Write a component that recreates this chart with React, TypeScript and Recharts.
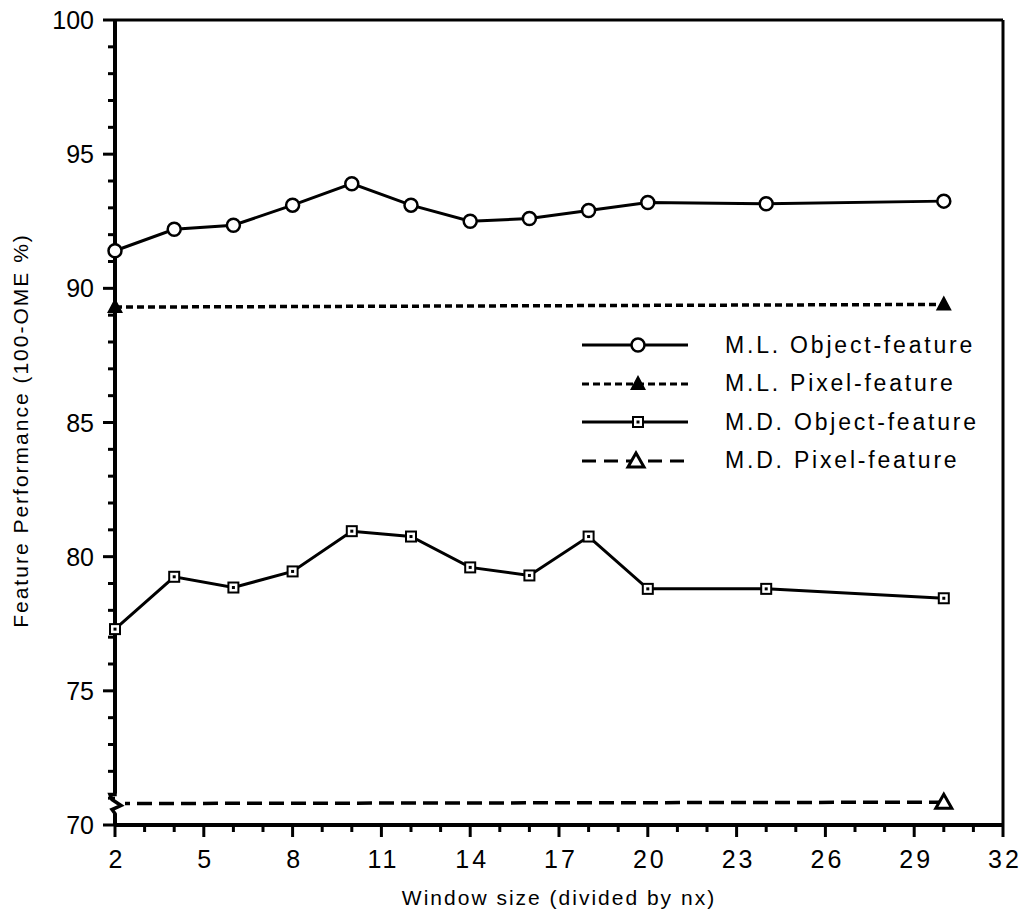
import { LineChart, Line, XAxis, YAxis, ReferenceLine, Legend } from 'recharts'

// window size (divided by nx)
const windowSizes = [2, 4, 6, 8, 10, 12, 14, 16, 18, 20, 24, 30]
const mlObject = [91.4, 92.2, 92.35, 93.1, 93.9, 93.1, 92.5, 92.6, 92.9, 93.2, 93.15, 93.25]
const mdObject = [77.3, 79.25, 78.85, 79.45, 80.95, 80.75, 79.6, 79.3, 80.75, 78.8, 78.8, 78.45]

const pixelSizes = [2, 30]
const mlPixel = [89.3, 89.4]
const mdPixel = [70.8, 70.85]

const seriesNames = ['M.L. Object-feature', 'M.L. Pixel-feature', 'M.D. Object-feature', 'M.D. Pixel-feature']

const xLabels = [2, 5, 8, 11, 14, 17, 20, 23, 26, 29, 32]
const yLabels = [70, 75, 80, 85, 90, 95, 100]
const xTicks = Array.from({ length: 31 }, (_, i) => 2 + i)
const yTicks = Array.from({ length: 31 }, (_, i) => 70 + i)

const toRows = (xs: number[], ys: number[]) => xs.map((x, i) => ({ x, v: ys[i] }))

const mlObjectData = toRows(windowSizes, mlObject)
const mdObjectData = toRows(windowSizes, mdObject)
const mlPixelData = toRows(pixelSizes, mlPixel)
const mdPixelData = toRows(pixelSizes, mdPixel)

const FONT = '"Liberation Sans", Arial, Helvetica, sans-serif'

const OpenCircle = ({ cx, cy }: any) => (
    <circle cx={cx} cy={cy} r={6.5} fill='#fff' stroke='#000' strokeWidth={2.5} />
)

const FilledTriangle = ({ cx, cy }: any) => (
    <polygon points={`${cx},${cy - 9} ${cx - 8},${cy + 6} ${cx + 8},${cy + 6}`} fill='#000' />
)

const OpenTriangle = ({ cx, cy }: any) => (
    <polygon
        points={`${cx},${cy - 8} ${cx - 8},${cy + 6} ${cx + 8},${cy + 6}`}
        fill='#fff'
        stroke='#000'
        strokeWidth={3}
    />
)

const DotSquare = ({ cx, cy }: any) => (
    <g>
        <rect x={cx - 5} y={cy - 5} width={10} height={10} fill='#fff' stroke='#000' strokeWidth={2} />
        <rect x={cx - 1.5} y={cy - 1.5} width={3} height={3} fill='#000' />
    </g>
)

// the first M.D. pixel point sits on the y axis, where the axis shows a break
const MdPixelDot = (props: any) => {
    const { cx, cy, index } = props
    if (index !== 0) return <OpenTriangle key={index} cx={cx} cy={cy} />
    return (
        <g key={index}>
            <rect x={cx - 8} y={cy - 10} width={18} height={20} fill='#fff' />
            <polyline
                points={`${cx},${cy - 12} ${cx},${cy - 9} ${cx - 5},${cy - 9} ${cx - 3},${cy - 4} ${cx + 6},${cy + 2} ${cx - 3},${cy + 6} ${cx},${cy + 10} ${cx},${cy + 12}`}
                fill='none'
                stroke='#000'
                strokeWidth={3.5}
                strokeLinejoin='miter'
            />
        </g>
    )
}

const XTick = ({ x, y, payload }: any) => {
    const major = xLabels.includes(payload.value)
    return (
        <g>
            <line x1={x} y1={y} x2={x} y2={y + (major ? 12 : 7)} stroke='#000' strokeWidth={3} />
            {major && (
                <text x={x + 2} y={y + 43} textAnchor='middle' fontFamily={FONT} fontSize={25} letterSpacing={3} fill='#000'>
                    {payload.value}
                </text>
            )}
        </g>
    )
}

const YTick = ({ x, y, payload }: any) => {
    const major = yLabels.includes(payload.value)
    return (
        <g>
            <line x1={x} y1={y} x2={x - (major ? 12 : 7)} y2={y} stroke='#000' strokeWidth={3} />
            {major && (
                <text x={x - 21} y={y + 9} textAnchor='end' fontFamily={FONT} fontSize={25} fill='#000'>
                    {payload.value}
                </text>
            )}
        </g>
    )
}

const YLabel = ({ viewBox }: any) => {
    const cx = 20
    const cy = viewBox.y + viewBox.height / 2 + 8
    return (
        <text x={cx} y={cy} transform={`rotate(-90 ${cx} ${cy})`} textAnchor='middle' dominantBaseline='central' fontFamily={FONT} fontSize={21} letterSpacing={2} fill='#000'>
            Feature Performance (100-OME %)
        </text>
    )
}

const XLabel = ({ viewBox }: any) => {
    const cx = viewBox.x + viewBox.width / 2
    return (
        <text x={cx} y={905} textAnchor='middle' fontFamily={FONT} fontSize={21} letterSpacing={2} fill='#000'>
            Window size (divided by nx)
        </text>
    )
}

const legendSamples = [
    { dash: undefined, marker: (cx: number, cy: number) => <OpenCircle cx={cx} cy={cy} /> },
    { dash: '7 4', marker: (cx: number, cy: number) => <FilledTriangle cx={cx} cy={cy} /> },
    { dash: undefined, marker: (cx: number, cy: number) => <DotSquare cx={cx} cy={cy} /> },
    { dash: '14 8', marker: (cx: number, cy: number) => <OpenTriangle cx={cx} cy={cy} /> },
]

const ChartLegend = () => (
    <div>
        {seriesNames.map((name, i) => (
            <div key={name} style={{ display: 'flex', alignItems: 'center', height: 38.5 }}>
                <svg width={112} height={38}>
                    <line x1={4} y1={19} x2={110} y2={19} stroke='#000' strokeWidth={3} strokeDasharray={legendSamples[i].dash} />
                    {legendSamples[i].marker(i === 3 ? 58 : 60, 19)}
                </svg>
                <span style={{ marginLeft: 35, fontFamily: FONT, fontSize: 23, letterSpacing: 2.8, color: '#000', whiteSpace: 'nowrap' }}>{name}</span>
            </div>
        ))}
    </div>
)

export default function App() {
    return (
        <div style={{ position: 'absolute', left: 0, top: 0, background: '#fff' }}>
            <LineChart width={1031} height={915} margin={{ top: 20, right: 28, left: 55, bottom: 30 }}>
                <XAxis
                    dataKey='x'
                    type='number'
                    domain={[2, 32]}
                    ticks={xTicks}
                    interval={0}
                    allowDuplicatedCategory={false}
                    axisLine={{ stroke: '#000', strokeWidth: 4 }}
                    tickLine={false}
                    tickSize={0}
                    tickMargin={0}
                    tick={<XTick />}
                    height={60}
                    label={<XLabel />}
                />
                <YAxis
                    type='number'
                    domain={[70, 100]}
                    ticks={yTicks}
                    interval={0}
                    allowDataOverflow
                    axisLine={{ stroke: '#000', strokeWidth: 4 }}
                    tickLine={false}
                    tickSize={0}
                    tickMargin={0}
                    tick={<YTick />}
                    width={60}
                    label={<YLabel />}
                />
                <ReferenceLine y={100} stroke='#000' strokeWidth={3} />
                <ReferenceLine x={32} stroke='#000' strokeWidth={3} />
                <Legend
                    layout='horizontal'
                    align='center'
                    verticalAlign='middle'
                    wrapperStyle={{ left: 578, top: 326, width: 450 }}
                    content={<ChartLegend />}
                />
                <Line data={mdPixelData} dataKey='v' name={seriesNames[3]} stroke='#000' strokeWidth={3.5} strokeDasharray='15 7' dot={MdPixelDot} isAnimationActive={false} />
                <Line data={mlPixelData} dataKey='v' name={seriesNames[1]} stroke='#000' strokeWidth={3.5} strokeDasharray='7 4' dot={<FilledTriangle />} isAnimationActive={false} />
                <Line data={mdObjectData} dataKey='v' name={seriesNames[2]} stroke='#000' strokeWidth={3} dot={<DotSquare />} isAnimationActive={false} />
                <Line data={mlObjectData} dataKey='v' name={seriesNames[0]} stroke='#000' strokeWidth={3} dot={<OpenCircle />} isAnimationActive={false} />
            </LineChart>
        </div>
    )
}
